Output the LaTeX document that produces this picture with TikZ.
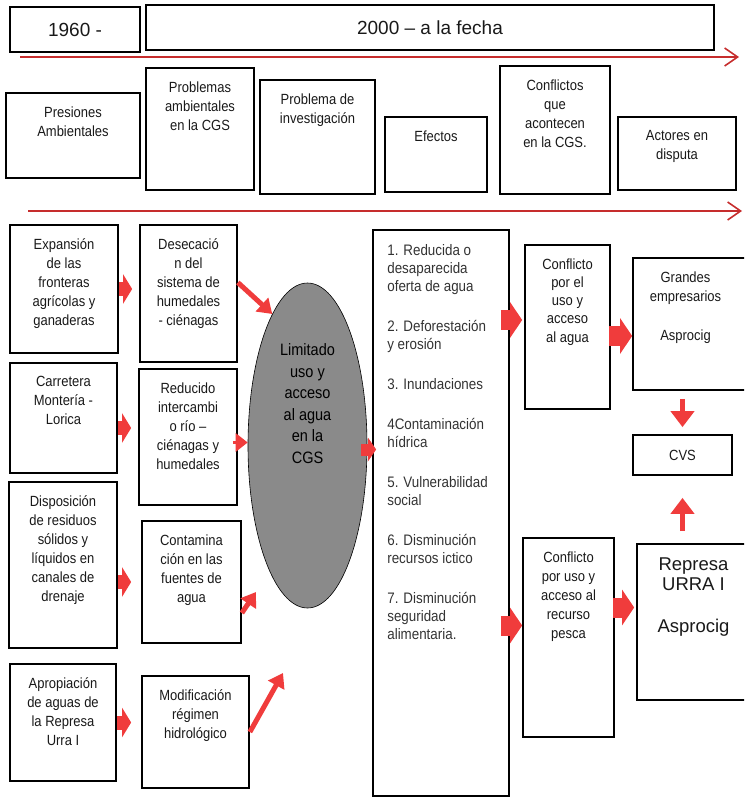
\documentclass[tikz,border=0pt]{standalone}
\usepackage{fontspec}
\setmainfont{Liberation Sans}[FakeStretch=0.88]
\newfontfamily\anchonormal{Liberation Sans}[Ligatures=TeX]
\usetikzlibrary{positioning,fit,calc,shapes.geometric,arrows.meta}

\definecolor{rojo}{HTML}{C62D2D}
\definecolor{flecha}{HTML}{F03C3C}
\definecolor{gris}{HTML}{8A8A8A}

\tikzset{
caja/.style={draw, line width=1.7pt, inner sep=0pt},
texto/.style={font=\fontsize{14.75}{19}\selectfont, align=center, inner sep=0pt, text=black!90},
linea/.style={draw=rojo, line width=1.6pt, -{Straight Barb[length=13pt,width=18pt]}},
gruesa/.style={draw=flecha, line width=14pt, -{Triangle[length=9pt,width=29pt]}},
ancha/.style={draw=flecha, line width=20pt, -{Triangle[length=12pt,width=35pt]}},
corta/.style={draw=flecha, line width=12pt, -{Triangle[length=8pt,width=23pt]}},
diag/.style={draw=flecha, line width=5pt, -{Triangle[length=14pt,width=18pt]}},
punta/.style={draw=flecha, line width=3pt, -{Triangle[length=12pt,width=18pt]}},
vert/.style={draw=flecha, line width=5pt, -{Triangle[length=16pt,width=23pt]}}
}

\newcommand{\caja}[7][]{
\node [caja, fit={(#3,#4) (#5,#6)}] (#2) {};
\node [texto, below=14pt of #2.north, #1] (#2-t) {#7};
}

\begin{document}
\begin{tikzpicture}[x=1pt,y=-1pt]
\useasboundingbox (0,0) rectangle (744,797);
\clip (0,0) rectangle (744,797);

% periodos
\node [caja, fit={(10,7) (140,52)}] (t1960) {};
\node [texto, font=\anchonormal\fontsize{19}{22}\selectfont] (t1960-t) at (t1960) {1960 -};
\node [caja, fit={(146,5) (714,50)}] (t2000) {};
\node [texto, font=\anchonormal\fontsize{19}{22}\selectfont] (t2000-t) at (t2000) {2000 – a la fecha};

\coordinate (ini1) at (20,57);
\coordinate (fin1) at (739,57);
\draw [linea] (ini1) -- (fin1);

% encabezados
\caja{pres}{6}{93}{140}{178}{Presiones\\Ambientales}
\caja{probl}{146}{68}{254}{190}{Problemas\\ambientales\\en la CGS}
\caja{inv}{260}{80}{375}{194}{Problema de\\investigación}
\caja{efec}{385}{117}{487}{192}{Efectos}
\caja{conf}{500}{66}{610}{194}{Conflictos\\que\\acontecen\\en la CGS.}
\caja{act}{618}{117}{736}{190}{Actores en\\disputa}

\coordinate (ini2) at (28,211);
\coordinate (fin2) at (742,211);
\draw [linea] (ini2) -- (fin2);

% presiones y problemas
\caja{exp}{10}{225}{118}{353}{Expansión\\de las\\fronteras\\agrícolas y\\ganaderas}
\caja{des}{140}{225}{237}{362}{Desecació\\n del\\sistema de\\humedales\\- ciénagas}
\caja{car}{10}{363}{117}{473}{Carretera\\Montería -\\Lorica}
\caja{red}{139}{369}{237}{505}{Reducido\\intercambi\\o río –\\ciénagas y\\humedales}
\caja{disp}{9}{482}{117}{648}{Disposición\\de residuos\\sólidos y\\líquidos en\\canales de\\drenaje}
\caja{cont}{142}{521}{241}{643}{Contamina\\ción en las\\fuentes de\\agua}
\caja{apro}{10}{664}{116}{781}{Apropiación\\de aguas de\\la Represa\\Urra I}
\caja{mod}{142}{676}{249}{788}{Modificación\\régimen\\hidrológico}

% problema
\node [ellipse, draw, fill=gris, line width=0.6pt, inner sep=0pt, minimum width=119pt, minimum height=325pt] (elip) at (307.5,445.5) {};
\node [texto, font=\fontsize{16.5}{21.5}\selectfont, text=black, below=61pt of elip.north] (elip-t) {Limitado\\uso y\\acceso\\al agua\\en la\\CGS};

% efectos
\node [caja, fit={(373,230) (509,796)}] (efe) {};
\node [texto, align=left, font=\fontsize{15.2}{18}\selectfont, text=black!80, anchor=north west] (efe-t) at ($(efe.north west)+(15,15)$) {1. Reducida o\\desaparecida\\oferta de agua\\[22pt]
2. Deforestación\\y erosión\\[22pt]
3. Inundaciones\\[22pt]
4Contaminación\\hídrica\\[22pt]
5. Vulnerabilidad\\social\\[22pt]
6. Disminución\\recursos ictico\\[22pt]
7. Disminución\\seguridad\\alimentaria.};

% conflictos y actores
\caja[font=\fontsize{14.75}{18.3}\selectfont]{conag}{525}{245}{610}{409}{Conflicto\\por el\\uso y\\acceso\\al agua}
\caja[xshift=-6pt]{gra}{633}{258}{750}{390}{Grandes\\empresarios\\[20pt]Asprocig}
\node [caja, fit={(633,435) (732,475)}] (cvs) {};
\node [texto] (cvs-t) at (cvs) {CVS};
\caja{pes}{523}{538}{614}{737}{Conflicto\\por uso y\\acceso al\\recurso\\pesca}
\caja[font=\anchonormal\fontsize{18.5}{20}\selectfont]{rep}{637}{544}{750}{700}{Represa\\URRA I\\[22pt]Asprocig}

% flechas
\draw [gruesa, shorten >=7pt] (exp.east) -- (des.west |- exp.east);
\draw [gruesa] ($(car.east)+(0,10)$) -- ($(red.west |- car.east)+(-7,10)$);
\draw [gruesa, shorten >=10pt] (disp.east |- cont.west) -- (cont.west);
\draw [gruesa, shorten >=10pt] (apro.east) -- (mod.west |- apro.east);

\coordinate (contfin) at (256,592);
\coordinate (modfin) at (283,673);
\draw [diag] ($(des.east)+(0,-11)$) -- (elip.105);
\draw [punta] ($(red.east |- elip.west)+(-5,-3)$) -- ($(elip.west)+(0,-3)$);
\draw [diag] ($(cont.east)+(0,31)$) -- (contfin);
\draw [diag] (mod.east) -- (modfin);

\draw [corta] ($(elip.east)+(-6,4)$) -- ($(efe.west |- elip.east)+(4,4)$);
\draw [ancha] ($(efe.east |- conag.west)+(-9,-7)$) -- ($(conag.west)+(-2,-7)$);
\draw [ancha] ($(conag.east)+(-2,9)$) -- ($(gra.west |- conag.east)+(0,9)$);
\draw [ancha] ($(efe.east |- pes.west)+(-9,-12)$) -- ($(pes.west)+(0,-12)$);
\draw [ancha] ($(pes.east)+(-2,-30)$) -- ($(rep.west |- pes.east)+(-2,-30)$);
\draw [vert, shorten <=8pt, shorten >=7pt] (gra.south -| cvs.north) -- (cvs.north);
\draw [vert, shorten <=12pt, shorten >=22pt] (rep.north -| cvs.south) -- (cvs.south);

\end{tikzpicture}
\end{document}
